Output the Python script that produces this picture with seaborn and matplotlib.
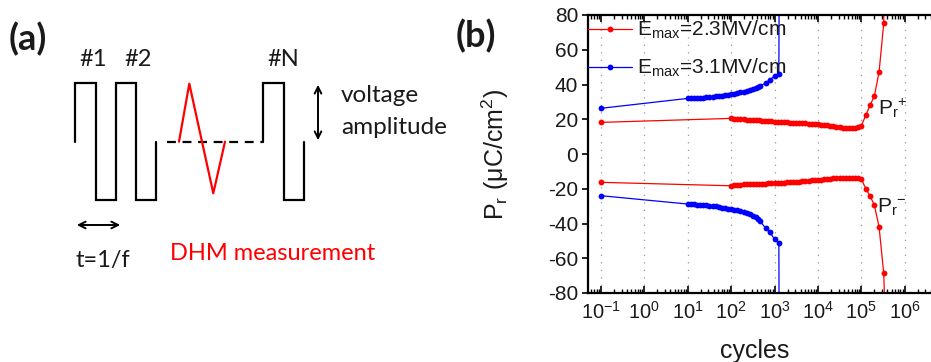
import matplotlib
matplotlib.use('Agg')
import matplotlib.pyplot as plt
import numpy as np
import pandas as pd
import seaborn as sns
from matplotlib.lines import Line2D
from matplotlib.ticker import LogLocator, MultipleLocator, NullFormatter

# ---------------- data (panel b) ----------------
red_cycles = [0.1,
              100, 118, 139, 164, 193, 228, 268, 316, 373, 439, 518, 611, 720, 848, 1000,
              1179, 1390, 1638, 1931, 2276, 2683, 3162, 3728, 4394, 5179, 6105, 7197, 8483, 10000,
              11790, 13900, 16380, 19310, 22760, 26830, 31620, 37280, 43940, 51790, 61050, 71970, 84830, 100000,
              128000, 160000, 200000, 257000, 330000]
red_pos = [18.2,
           20.5, 20.3, 20.1, 20.0, 19.9, 19.8, 19.7, 19.5, 19.4, 19.3, 19.2, 19.0, 18.9, 18.8, 18.6,
           18.5, 18.4, 18.3, 18.2, 18.1, 18.0, 17.9, 17.8, 17.7, 17.6, 17.5, 17.4, 17.2, 17.0,
           16.9, 16.7, 16.5, 16.3, 16.0, 15.7, 15.4, 15.1, 14.9, 14.8, 14.8, 15.0, 15.4, 16.2,
           22.4, 28.2, 33.2, 47.0, 75.2]
red_neg = [-16.3,
           -18.3, -18.0, -17.8, -17.6, -17.5, -17.4, -17.3, -17.2, -17.2, -17.1, -17.0, -17.0, -16.9, -16.9, -16.8,
           -16.7, -16.6, -16.5, -16.4, -16.3, -16.2, -16.0, -15.9, -15.7, -15.5, -15.3, -15.2, -15.0, -14.9,
           -14.8, -14.6, -14.4, -14.2, -14.0, -13.9, -13.8, -13.7, -13.6, -13.6, -13.6, -13.7, -13.8, -14.3,
           -20.1, -24.2, -29.4, -41.8, -68.7]
red_tail_cycles = [330000, 345000]
red_tail_pos = [75.2, 130.0]
red_tail_neg_cycles = [330000, 362000]
red_tail_neg = [-68.7, -100.0]

blue_cycles = [0.1,
               10, 11.8, 13.9, 16.4, 19.3, 22.8, 26.8, 31.6, 37.3, 43.9, 51.8, 61.1, 72, 84.8, 100,
               118, 139, 164, 193, 228, 268, 316, 373, 420, 470, 630, 780, 1000, 1260]
blue_pos = [26.3,
            32.0, 32.1, 32.2, 32.3, 32.4, 32.5, 32.6, 32.8, 33.0, 33.2, 33.4, 33.6, 33.9, 34.2, 34.5,
            34.8, 35.1, 35.4, 35.8, 36.2, 36.7, 37.2, 37.8, 38.4, 39.0, 41.0, 42.6, 44.9, 46.0]
blue_neg = [-24.0,
            -28.8, -28.9, -29.0, -29.1, -29.3, -29.4, -29.6, -29.8, -30.0, -30.2, -30.5, -30.8, -31.1, -31.4, -31.7,
            -32.0, -32.4, -32.8, -33.3, -33.8, -34.6, -35.4, -36.4, -37.5, -38.8, -42.8, -45.0, -49.0, -51.4]
blue_tail_cycles = [1260, 1320]
blue_tail_pos = [46.0, 200.0]
blue_tail_neg = [-51.4, -200.0]

series_labels = [r'E$_{\mathregular{max}}$=2.3MV/cm', r'E$_{\mathregular{max}}$=3.1MV/cm']
x_ticks = [0.1, 1, 10, 100, 1e3, 1e4, 1e5, 1e6]
y_ticks = [-80, -60, -40, -20, 0, 20, 40, 60, 80]

# ---------------- diagram geometry (panel a, pixel coords) ----------------
wave1_x = [75, 75, 95.7, 95.7, 115.7, 115.7, 136, 136, 156, 156]
wave1_y = [141.7, 83.3, 83.3, 200, 200, 83.3, 83.3, 200, 200, 141.7]
dash_x = [167, 263.3]
dash_y = [141.7, 141.7]
wave2_x = [263.3, 263.3, 284, 284, 304, 304]
wave2_y = [141.7, 83.3, 83.3, 200, 200, 141.7]
tri_x = [179, 189.3, 213.3, 225]
tri_y = [141.7, 83.7, 193.3, 141.7]

RED = '#ff0000'
BLUE = '#0000ff'
TXT = '#1a1a1a'

sns.set_theme(style='white')
plt.rcParams['font.family'] = ['Liberation Sans', 'DejaVu Sans']
plt.rcParams['mathtext.fontset'] = 'custom'
plt.rcParams['mathtext.rm'] = 'Liberation Sans'
plt.rcParams['mathtext.it'] = 'Liberation Sans:italic'
plt.rcParams['mathtext.default'] = 'regular'
plt.rcParams['axes.unicode_minus'] = False

fig = plt.figure(figsize=(9.31, 3.62), dpi=100)

# ---------------- panel (a) ----------------
axa = fig.add_axes([0, 0, 1, 1])
axa.set_xlim(0, 931)
axa.set_ylim(362, 0)
axa.axis('off')
axa.plot(wave1_x, wave1_y, color='black', lw=1.6, solid_joinstyle='miter')
axa.plot(dash_x, dash_y, color='black', lw=1.6, linestyle=(0, (4, 3)))
axa.plot(wave2_x, wave2_y, color='black', lw=1.6, solid_joinstyle='miter')
axa.plot(tri_x, tri_y, color=RED, lw=1.6)
afont = ['Lato', 'DejaVu Sans']
axa.text(92.7, 60, '#1', ha='center', va='center', fontsize=17, family=afont, color=TXT)
axa.text(138, 60, '#2', ha='center', va='center', fontsize=17, family=afont, color=TXT)
axa.text(283.3, 60, '#N', ha='center', va='center', fontsize=17, family=afont, color=TXT)
axa.text(341, 95, 'voltage', ha='left', va='center', fontsize=17.5, family=afont, color=TXT)
axa.text(341, 127, 'amplitude', ha='left', va='center', fontsize=17.5, family=afont, color=TXT)
axa.text(76, 260, 't=1/f', ha='left', va='center', fontsize=17, family=afont, color=TXT)
axa.text(170.5, 253, 'DHM measurement', ha='left', va='center', fontsize=17,
         color=RED, family=afont)
axa.text(9, 39, '(a)', ha='left', va='center', fontsize=26, fontweight='bold', family=afont,
         color=TXT)
axa.text(456, 36, '(b)', ha='left', va='center', fontsize=26, fontweight='bold', family=afont,
         color=TXT)
axa.annotate('', xy=(318, 82), xytext=(318, 143),
             arrowprops=dict(arrowstyle='<->', lw=1.4, color='black', mutation_scale=12))
axa.annotate('', xy=(74, 225), xytext=(123, 225),
             arrowprops=dict(arrowstyle='<->', lw=1.4, color='black', mutation_scale=12))

# ---------------- panel (b) ----------------
axb = fig.add_axes([588 / 931, 1 - 293 / 362, 360 / 931, 278 / 362])
axb.set_xscale('log')


def draw(c, v, color):
    df = pd.DataFrame({'cycles': c, 'Pr': v})
    sns.lineplot(data=df, x='cycles', y='Pr', ax=axb, color=color, marker='o',
                 markersize=4.2, markeredgewidth=0, linewidth=0.9,
                 estimator=None, sort=False, legend=False)


def draw_line(c, v, color):
    df = pd.DataFrame({'cycles': c, 'Pr': v})
    sns.lineplot(data=df, x='cycles', y='Pr', ax=axb, color=color,
                 linewidth=0.9, estimator=None, sort=False, legend=False)


draw(red_cycles, red_pos, RED)
draw(red_cycles, red_neg, RED)
draw_line(red_tail_cycles, red_tail_pos, RED)
draw_line(red_tail_neg_cycles, red_tail_neg, RED)
draw(blue_cycles, blue_pos, BLUE)
draw(blue_cycles, blue_neg, BLUE)
draw_line(blue_tail_cycles, blue_tail_pos, BLUE)
draw_line(blue_tail_cycles, blue_tail_neg, BLUE)

axb.set_xlim(10 ** -1.3, 10 ** 7)
axb.set_ylim(-80, 80)
axb.set_xticks(x_ticks)
axb.xaxis.set_minor_locator(LogLocator(base=10, subs=np.arange(2, 10), numticks=20))
axb.xaxis.set_minor_formatter(NullFormatter())
axb.set_yticks(y_ticks)
axb.yaxis.set_minor_locator(MultipleLocator(10))
axb.tick_params(axis='x', which='both', direction='in', top=True, bottom=True,
                labelsize=14.5, pad=6, color='black', labelcolor=TXT)
axb.tick_params(axis='x', which='major', length=5, width=1.2)
axb.tick_params(axis='x', which='minor', length=3, width=1.0)
axb.tick_params(axis='y', which='both', direction='out', left=True, right=False,
                labelsize=15, pad=3, color='black', labelcolor=TXT)
axb.tick_params(axis='y', which='major', length=4, width=1.2)
axb.tick_params(axis='y', which='minor', length=0)
for s in axb.spines.values():
    s.set_linewidth(1.6)
    s.set_color('black')
axb.grid(axis='x', which='major', color='#999999', linestyle=(0, (1, 5)), linewidth=0.9)
axb.set_xlabel('cycles', fontsize=18, color=TXT)
axb.xaxis.set_label_coords(0.464, -0.165)
axb.set_ylabel(r'P$_{\mathregular{r}}$ ($\mathregular{\mu}$C/cm$^{\mathregular{2}}$)',
               fontsize=18, color=TXT)
axb.yaxis.set_label_coords(-0.215, 0.5)

axb.text(2.4e5, 26.5, r'P$_{\mathregular{r}}$$^{\mathregular{+}}$', fontsize=15,
         ha='left', va='center', color=TXT)
axb.text(2.3e5, -30.5, r'P$_{\mathregular{r}}$$^{\mathregular{-}}$', fontsize=15,
         ha='left', va='center', color=TXT)

handles = [Line2D([0], [0], color=RED, marker='o', markersize=4.2, markeredgewidth=0, lw=0.9),
           Line2D([0], [0], color=BLUE, marker='o', markersize=4.2, markeredgewidth=0, lw=0.9)]
axb.legend(handles, series_labels, loc='upper left', bbox_to_anchor=(0.0, 0.985),
           frameon=False, fontsize=15, handlelength=2.1, handletextpad=0.25,
           borderpad=0, borderaxespad=0, labelspacing=0.75, labelcolor=TXT)

fig.savefig('out.png', dpi=100)
